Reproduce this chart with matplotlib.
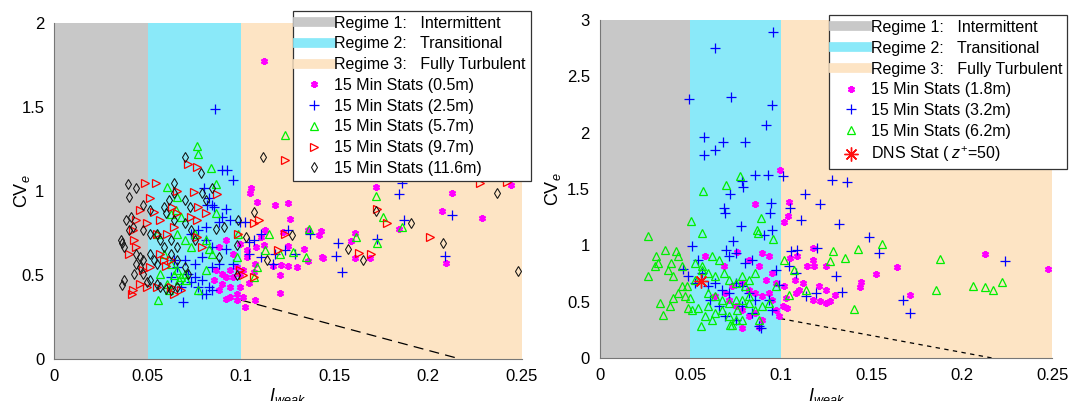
import numpy as np
import matplotlib.pyplot as plt
from matplotlib.lines import Line2D

plt.rcParams['font.family'] = ['Liberation Sans', 'DejaVu Sans']
plt.rcParams['mathtext.fontset'] = 'custom'
plt.rcParams['mathtext.rm'] = 'Liberation Sans'
plt.rcParams['mathtext.it'] = 'Liberation Sans:italic'

# bandes des regimes
regime_bornes = [0, 0.05, 0.1, 0.25]
regime_couleurs = ['#c8c8c8', '#8ae9f9', '#fde4c4']
regime_labels = ['Regime 1:   Intermittent', 'Regime 2:   Transitional', 'Regime 3:   Fully Turbulent']

# droite limite (tirets)
limite_x = [0.1, 0.217]
limite_y = [0.35, 0.0]

# ---- panneau gauche ----
gauche_05 = np.array([
    [0.112, 1.775], [0.1055, 1.015], [0.105, 0.985], [0.1087, 0.935], [0.118, 0.915], [0.125, 0.93],
    [0.126, 0.835], [0.172, 1.025], [0.2128, 0.99], [0.2444, 1.036], [0.2075, 0.88], [0.229, 0.837],
    [0.2095, 0.57], [0.161, 0.748], [0.159, 0.70], [0.161, 0.60], [0.169, 0.60], [0.1845, 0.772],
    [0.1425, 0.764], [0.136, 0.766], [0.1435, 0.609], [0.1336, 0.653], [0.130, 0.546], [0.125, 0.55],
    [0.1216, 0.557], [0.117, 0.553], [0.1207, 0.497], [0.121, 0.39], [0.113, 0.766], [0.1225, 0.756],
    [0.1105, 0.726], [0.108, 0.667], [0.103, 0.647], [0.1077, 0.567], [0.102, 0.308], [0.1077, 0.348],
    [0.0994, 0.428], [0.0976, 0.388], [0.0939, 0.428], [0.090, 0.448], [0.092, 0.4875], [0.0883, 0.408],
    [0.0957, 0.4875], [0.0994, 0.5075], [0.0976, 0.547], [0.1013, 0.527], [0.0939, 0.527], [0.090, 0.507],
    [0.1013, 0.368], [0.0939, 0.368], [0.0883, 0.667], [0.092, 0.706], [0.0994, 0.686], [0.103, 0.607],
    [0.0957, 0.627], [0.0855, 0.468], [0.0865, 0.527], [0.0976, 0.348], [0.092, 0.358], [0.136, 0.58],
    [0.1417, 0.738], [0.125, 0.67], [0.144, 0.60], [0.107, 0.52], [0.104, 0.45], [0.112, 0.68]])
gauche_25 = np.array([
    [0.0861, 1.489], [0.0896, 1.124], [0.0924, 1.124], [0.0957, 1.065], [0.186, 1.045], [0.1844, 0.979],
    [0.2127, 0.856], [0.187, 0.826], [0.1726, 0.712], [0.1517, 0.69], [0.1508, 0.611], [0.154, 0.517],
    [0.209, 0.611], [0.137, 0.746], [0.125, 0.766], [0.1105, 0.746], [0.107, 0.706], [0.102, 0.816],
    [0.0994, 0.816], [0.080, 1.015], [0.0828, 0.955], [0.0855, 0.905], [0.092, 0.895], [0.0818, 0.915],
    [0.0846, 0.915], [0.090, 0.846], [0.0939, 0.826], [0.081, 0.786], [0.0883, 0.816], [0.0735, 0.746],
    [0.0772, 0.766], [0.081, 0.706], [0.0846, 0.667], [0.092, 0.657], [0.079, 0.607], [0.0754, 0.567],
    [0.0698, 0.587], [0.066, 0.547], [0.0717, 0.507], [0.0754, 0.4875], [0.079, 0.468], [0.0828, 0.428],
    [0.081, 0.388], [0.0846, 0.408], [0.0772, 0.428], [0.0735, 0.458], [0.068, 0.428], [0.069, 0.338],
    [0.0846, 0.547], [0.0883, 0.567], [0.0957, 0.567], [0.104, 0.627], [0.1105, 0.607], [0.117, 0.567],
    [0.118, 0.627], [0.129, 0.627], [0.1234, 0.647], [0.104, 0.696], [0.079, 0.388], [0.0625, 0.4875],
    [0.0643, 0.587]])
gauche_57 = np.array([
    [0.0767, 1.268], [0.0769, 1.218], [0.084, 1.134], [0.0865, 1.039], [0.1234, 1.333], [0.172, 0.969],
    [0.1761, 0.842], [0.186, 0.786], [0.1724, 0.687], [0.1617, 0.726], [0.1364, 0.776], [0.1345, 0.607],
    [0.128, 0.637], [0.121, 0.627], [0.1127, 0.65], [0.115, 0.746], [0.1087, 0.547], [0.1068, 0.4875],
    [0.0976, 0.607], [0.0985, 0.746], [0.0865, 0.866], [0.081, 0.706], [0.0828, 0.657], [0.0846, 0.627],
    [0.0606, 1.025], [0.066, 0.965], [0.0652, 0.885], [0.068, 0.846], [0.066, 0.746], [0.0698, 0.706],
    [0.055, 0.746], [0.0588, 0.627], [0.0625, 0.567], [0.066, 0.527], [0.068, 0.4875], [0.0698, 0.507],
    [0.0707, 0.468], [0.0569, 0.507], [0.0606, 0.448], [0.0556, 0.348], [0.0772, 0.408], [0.0735, 0.667],
    [0.0754, 0.746], [0.081, 0.527], [0.0615, 0.408], [0.0625, 0.865], [0.064, 0.50], [0.067, 0.47]])
gauche_97 = np.array([
    [0.0717, 1.16], [0.0763, 1.144], [0.0486, 1.049], [0.0543, 1.045], [0.1234, 1.184], [0.2278, 1.045],
    [0.2422, 1.055], [0.1724, 0.89], [0.178, 0.81], [0.201, 0.726], [0.163, 0.633], [0.1696, 0.627],
    [0.1234, 0.746], [0.1197, 0.65], [0.1096, 0.826], [0.1068, 0.806], [0.0985, 0.746], [0.0874, 0.979],
    [0.075, 0.995], [0.066, 0.999], [0.0514, 0.955], [0.0458, 0.885], [0.0532, 0.876], [0.044, 0.826],
    [0.0495, 0.806], [0.0421, 0.766], [0.0403, 0.627], [0.043, 0.706], [0.044, 0.667], [0.055, 0.746],
    [0.0569, 0.826], [0.0569, 0.627], [0.0588, 0.587], [0.0514, 0.547], [0.0477, 0.527], [0.0458, 0.448],
    [0.042, 0.408], [0.0418, 0.388], [0.0495, 0.428], [0.055, 0.428], [0.0625, 0.428], [0.0643, 0.388],
    [0.068, 0.408], [0.0735, 0.846], [0.0763, 0.826], [0.0772, 0.905], [0.081, 0.866], [0.0763, 0.726],
    [0.079, 0.667], [0.0643, 0.786], [0.0606, 0.746], [0.0633, 0.903], [0.066, 0.866], [0.1068, 0.4875],
    [0.1013, 0.497], [0.0994, 0.527], [0.0625, 0.587], [0.060, 0.55]])
gauche_116 = np.array([
    [0.0698, 1.204], [0.0785, 1.108], [0.0643, 1.049], [0.0394, 1.039], [0.044, 1.015], [0.0399, 0.965],
    [0.0846, 1.015], [0.1118, 1.2], [0.1068, 0.876], [0.172, 0.882], [0.1909, 0.81], [0.2079, 0.69],
    [0.2367, 0.985], [0.2478, 0.523], [0.165, 0.587], [0.1572, 0.657], [0.127, 0.736], [0.1138, 0.587],
    [0.1027, 0.726], [0.0976, 0.677], [0.0985, 0.826], [0.0865, 0.776], [0.091, 0.786], [0.0883, 0.607],
    [0.0976, 0.497], [0.0698, 0.945], [0.0726, 0.905], [0.0643, 0.985], [0.0615, 0.945], [0.079, 0.985],
    [0.081, 0.945], [0.0588, 0.905], [0.0597, 0.866], [0.0514, 0.885], [0.0477, 0.915], [0.0384, 0.826],
    [0.0412, 0.846], [0.0421, 0.786], [0.0403, 0.766], [0.0357, 0.706], [0.0366, 0.687], [0.0375, 0.667],
    [0.0477, 0.766], [0.0514, 0.746], [0.044, 0.627], [0.0458, 0.607], [0.0477, 0.587], [0.0458, 0.547],
    [0.044, 0.567], [0.043, 0.507], [0.0477, 0.507], [0.0514, 0.468], [0.0375, 0.468], [0.0366, 0.438],
    [0.0495, 0.458], [0.0550, 0.448], [0.055, 0.746], [0.0569, 0.706], [0.0588, 0.667], [0.0625, 0.627],
    [0.066, 0.587], [0.0698, 0.547], [0.0643, 0.826], [0.0698, 0.806], [0.0569, 0.428], [0.0597, 0.418],
    [0.0625, 0.408], [0.0660, 0.428], [0.0735, 0.766], [0.0754, 0.706], [0.0625, 0.706], [0.066, 0.667],
    [0.0514, 0.627], [0.0532, 0.587], [0.0550, 0.567], [0.0717, 0.507]])

# ---- panneau droit ----
droite_18 = np.array([
    [0.0996, 1.667], [0.1043, 1.386], [0.0855, 1.371], [0.104, 1.259], [0.102, 1.205], [0.1641, 0.808],
    [0.1524, 0.746], [0.1442, 0.672], [0.1437, 0.631], [0.1716, 0.563], [0.2128, 0.927], [0.2478, 0.791],
    [0.118, 0.977], [0.118, 0.874], [0.1145, 0.814], [0.1185, 0.814], [0.125, 0.814], [0.1089, 0.903],
    [0.105, 0.888], [0.108, 0.696], [0.112, 0.666], [0.121, 0.637], [0.125, 0.607], [0.1177, 0.518],
    [0.1214, 0.503], [0.125, 0.489], [0.127, 0.504], [0.1297, 0.563], [0.1084, 0.577], [0.1103, 0.607],
    [0.101, 0.459], [0.1037, 0.444], [0.0758, 0.942], [0.0823, 0.874], [0.0898, 0.933], [0.0935, 0.903],
    [0.0879, 0.814], [0.0953, 0.755], [0.0916, 0.696], [0.0786, 0.666], [0.0823, 0.607], [0.086, 0.577],
    [0.0898, 0.548], [0.0935, 0.577], [0.0712, 0.518], [0.075, 0.459], [0.0786, 0.43], [0.0823, 0.37],
    [0.086, 0.40], [0.0898, 0.34], [0.0786, 0.27], [0.088, 0.28], [0.0972, 0.43], [0.099, 0.37],
    [0.0693, 0.577], [0.073, 0.637], [0.0638, 0.548], [0.058, 0.903], [0.0684, 0.814], [0.0972, 0.666],
    [0.1018, 0.637], [0.1027, 0.533], [0.0953, 0.518]])
droite_32 = np.array([
    [0.0959, 2.896], [0.0634, 2.748], [0.0494, 2.295], [0.0725, 2.319], [0.095, 2.245], [0.092, 2.067],
    [0.0576, 1.96], [0.0636, 1.845], [0.068, 1.916], [0.080, 1.916], [0.0578, 1.803], [0.086, 1.629],
    [0.093, 1.629], [0.1013, 1.62], [0.0786, 1.569], [0.079, 1.519], [0.0717, 1.457], [0.0684, 1.333],
    [0.069, 1.288], [0.0944, 1.377], [0.094, 1.288], [0.0779, 1.17], [0.0953, 1.14], [0.0907, 1.096],
    [0.0736, 1.036], [0.070, 0.962], [0.0507, 0.998], [0.1283, 1.584], [0.1366, 1.561], [0.1136, 1.46],
    [0.1219, 1.371], [0.105, 1.333], [0.111, 1.229], [0.132, 1.19], [0.1489, 1.072], [0.1545, 0.933],
    [0.2236, 0.865], [0.1673, 0.518], [0.1716, 0.40], [0.134, 0.583], [0.1307, 0.725], [0.1199, 0.977],
    [0.109, 0.962], [0.1056, 0.948], [0.1046, 0.814], [0.1084, 0.755], [0.114, 0.548], [0.1195, 0.577],
    [0.0972, 0.785], [0.099, 0.651], [0.0545, 0.874], [0.0563, 0.755], [0.060, 0.637], [0.0638, 0.666],
    [0.0675, 0.607], [0.0712, 0.577], [0.075, 0.666], [0.0786, 0.637], [0.0823, 0.577], [0.086, 0.518],
    [0.0786, 0.459], [0.0842, 0.40], [0.0693, 0.37], [0.075, 0.34], [0.088, 0.281], [0.0889, 0.27],
    [0.0656, 0.459], [0.0609, 0.518], [0.0935, 0.518], [0.0953, 0.43], [0.0805, 0.844], [0.0842, 0.874],
    [0.0712, 0.903], [0.075, 0.933], [0.0459, 0.788], [0.0489, 0.725], [0.0526, 0.666]])
droite_62 = np.array([
    [0.0266, 1.081], [0.0359, 0.962], [0.0424, 0.948], [0.0312, 0.903], [0.0396, 0.844], [0.0303, 0.814],
    [0.0322, 0.843], [0.0266, 0.725], [0.0377, 0.785], [0.0405, 0.725], [0.0433, 0.903], [0.0452, 0.814],
    [0.0331, 0.489], [0.035, 0.385], [0.0387, 0.459], [0.0405, 0.533], [0.0433, 0.577], [0.0452, 0.637],
    [0.048, 0.637], [0.0470, 0.548], [0.0498, 0.533], [0.0489, 0.444], [0.0508, 0.430], [0.0545, 0.444],
    [0.0559, 0.281], [0.0504, 1.214], [0.0563, 1.11], [0.0572, 1.48], [0.0697, 1.534], [0.0773, 1.614],
    [0.0869, 1.14], [0.0873, 1.11], [0.0892, 1.244], [0.0959, 1.06], [0.1018, 0.874], [0.1074, 0.785],
    [0.1046, 0.563], [0.1288, 0.953], [0.127, 0.859], [0.1353, 0.888], [0.1424, 0.968], [0.1558, 1.013],
    [0.1877, 0.88], [0.1403, 0.438], [0.1855, 0.607], [0.2063, 0.637], [0.213, 0.631], [0.2171, 0.607],
    [0.2221, 0.672], [0.114, 0.607], [0.0563, 0.814], [0.06, 0.755], [0.0638, 0.725], [0.0656, 0.874],
    [0.0619, 0.903], [0.0526, 0.844], [0.0563, 0.785], [0.0684, 0.755], [0.0712, 0.696], [0.075, 0.666],
    [0.0786, 0.725], [0.0823, 0.696], [0.086, 0.755], [0.06, 0.577], [0.0638, 0.548], [0.0675, 0.518],
    [0.0712, 0.489], [0.075, 0.518], [0.06, 0.459], [0.0638, 0.40], [0.0675, 0.43], [0.0712, 0.37],
    [0.075, 0.34], [0.0786, 0.518], [0.0823, 0.489], [0.086, 0.43], [0.0898, 0.459], [0.0935, 0.489],
    [0.0721, 0.296], [0.0731, 0.29], [0.0879, 0.34], [0.0758, 0.43], [0.0786, 0.34], [0.0972, 0.637],
    [0.0526, 0.696], [0.0619, 0.34], [0.0582, 0.37], [0.0805, 0.637], [0.0823, 0.548]])
dns_x = [0.0558]
dns_y = [0.687]


def panneau(ax, series, ymax, yticks, dashes, label_x):
    for i in range(3):
        ax.axvspan(regime_bornes[i], regime_bornes[i + 1], color=regime_couleurs[i], lw=0, zorder=0)
    ax.plot(limite_x, limite_y, color='k', lw=0.9, dashes=dashes, zorder=1)
    handles = [Line2D([], [], color=c, lw=7, label=l) for c, l in zip(regime_couleurs, regime_labels)]
    for donnees, label, style in series:
        h, = ax.plot(donnees[:, 0], donnees[:, 1], ls='none', label=label, zorder=2, **style)
        handles.append(h)
    ax.set_xlim(0, 0.25)
    ax.set_ylim(0, ymax)
    ax.set_xticks([0, 0.05, 0.1, 0.15, 0.2, 0.25])
    ax.set_xticklabels(['0', '0.05', '0.1', '0.15', '0.2', '0.25'])
    ax.set_yticks(yticks)
    ax.set_yticklabels(['%g' % t for t in yticks])
    ax.tick_params(length=0, labelsize=12, pad=7)
    for s in ['top', 'right']:
        ax.spines[s].set_visible(False)
    for s in ['left', 'bottom']:
        ax.spines[s].set_color('#777777')
        ax.spines[s].set_linewidth(0.8)
    ax.set_xlabel(r'$I_{weak}$', fontsize=13, labelpad=2)
    ax.set_ylabel(r'CV$_e$', fontsize=13)
    ax.yaxis.set_label_coords(label_x, 0.5)
    return handles


etoile = {'marker': (6, 2, 0), 'ms': 5, 'mec': '#ff00ff', 'mew': 1.6, 'color': '#ff00ff'}
plus = {'marker': '+', 'ms': 6.5, 'mec': '#0000ff', 'mew': 0.9, 'color': '#0000ff'}
tri_haut = {'marker': '^', 'ms': 5.5, 'mec': '#00ee00', 'mfc': 'none', 'mew': 0.9, 'color': '#00ee00'}
tri_droit = {'marker': '>', 'ms': 5.5, 'mec': '#ff0000', 'mfc': 'none', 'mew': 0.9, 'color': '#ff0000'}
losange = {'marker': 'd', 'ms': 5, 'mec': '#111111', 'mfc': 'none', 'mew': 0.75, 'color': '#111111'}
dns = {'marker': (8, 2, 0), 'ms': 10, 'mec': '#ff1010', 'mew': 1.0, 'color': '#ff1010'}

fig = plt.figure(figsize=(10.69, 4.01), dpi=100)
ax1 = fig.add_axes([0.0505, 0.105, 0.4375, 0.838])
ax2 = fig.add_axes([0.561, 0.107, 0.4235, 0.843])

h1 = panneau(ax1, [
    (gauche_05, '15 Min Stats (0.5m)', etoile),
    (gauche_25, '15 Min Stats (2.5m)', plus),
    (gauche_57, '15 Min Stats (5.7m)', tri_haut),
    (gauche_97, '15 Min Stats (9.7m)', tri_droit),
    (gauche_116, '15 Min Stats (11.6m)', losange)],
    2, [0, 0.5, 1, 1.5, 2], (8, 5), -0.046)

h2 = panneau(ax2, [
    (droite_18, '15 Min Stats (1.8m)', etoile),
    (droite_32, '15 Min Stats (3.2m)', plus),
    (droite_62, '15 Min Stats (6.2m)', tri_haut)],
    3, [0, 0.5, 1, 1.5, 2, 2.5, 3], (3.5, 3.5), -0.08)
hd, = ax2.plot(dns_x, dns_y, ls='none', label=r'DNS Stat ( $z^{+}$=50)', zorder=3, **dns)
h2.append(hd)

for h, pos in [(h1, (0.274, 0.973)), (h2, (0.7755, 0.962))]:
    leg = fig.legend(handles=h, loc='upper left', bbox_to_anchor=pos, fontsize=11.5,
                     numpoints=1, handlelength=2.1, handletextpad=0.2, labelspacing=0.36,
                     borderpad=0.3, borderaxespad=0, fancybox=False, framealpha=1)
    leg.get_frame().set_edgecolor('#333333')
    leg.get_frame().set_linewidth(0.9)

fig.savefig('out.png', dpi=100)
